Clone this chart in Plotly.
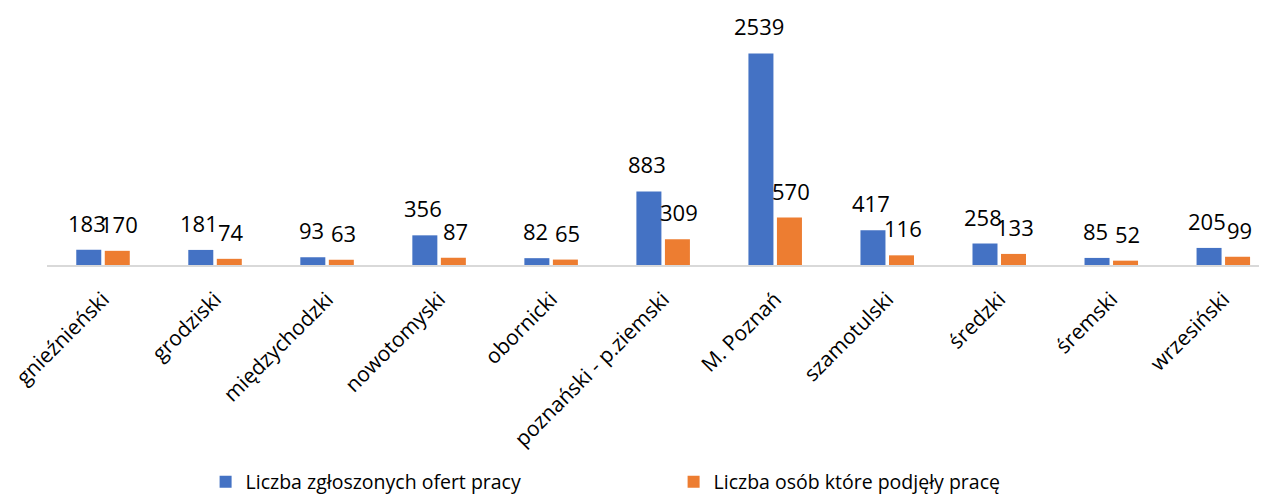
import plotly.graph_objects as go

categories = ["gnieźnieński", "grodziski", "międzychodzki", "nowotomyski", "obornicki",
              "poznański - p.ziemski", "M. Poznań", "szamotulski", "średzki", "śremski", "wrzesiński"]
oferty = [183, 181, 93, 356, 82, 883, 2539, 417, 258, 85, 205]
podjete = [170, 74, 63, 87, 65, 309, 570, 116, 133, 52, 99]
series_names = ["Liczba zgłoszonych ofert pracy", "Liczba osób które podjęły pracę"]
colors = ["#4472C4", "#ED7D31"]

FONT = "Open Sans"

fig = go.Figure()
for name, vals, col in zip(series_names, [oferty, podjete], colors):
    fig.add_trace(go.Bar(
        x=categories, y=vals, name=name,
        marker=dict(color=col, line=dict(width=0)),
    ))

# data labels placed above bars via the axes' scales
for i, vals in enumerate([oferty, podjete]):
    shift = -16 if i == 0 else 16
    for c, v in zip(categories, vals):
        fig.add_annotation(x=c, y=v, xref="x", yref="y", text=str(v), showarrow=False,
                           xshift=shift, yshift=10, yanchor="bottom",
                           font=dict(family=FONT, size=22, color="#000000"))

fig.update_layout(
    width=1259, height=489,
    margin=dict(l=39, r=0, t=7, b=232, autoexpand=False),
    paper_bgcolor="white", plot_bgcolor="white",
    barmode="group", bargap=0.491, bargroupgap=0.123,
    font=dict(family=FONT, color="#000000"),
    showlegend=True,
    legend=dict(orientation="h", x=0.13, xanchor="left", y=-0.868, yanchor="middle",
                font=dict(family=FONT, size=19.5, color="#000000"),
                entrywidth=423, entrywidthmode="pixels", traceorder="normal"),
)
fig.update_xaxes(tickangle=-45, tickfont=dict(family=FONT, size=21, color="#000000"),
                 range=[-0.5, 10.39], automargin=False, ticklabelstandoff=12,
                 showline=True, linecolor="#D9D9D9", linewidth=1.5, ticks="", showgrid=False)
fig.update_yaxes(range=[0, 3000], visible=False, showgrid=False, zeroline=False, automargin=False)

fig.write_html("out.html")
